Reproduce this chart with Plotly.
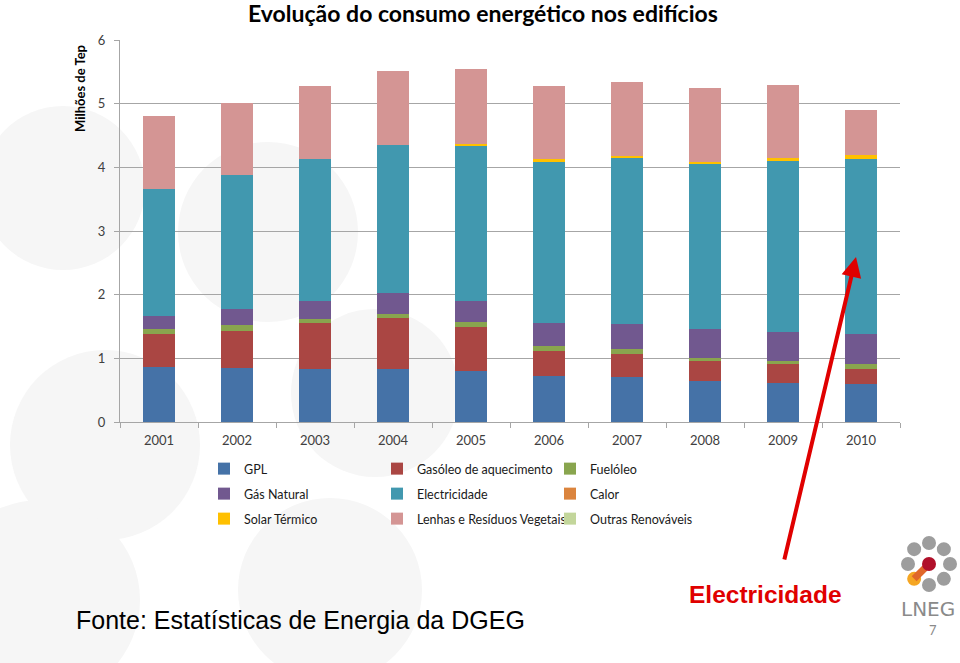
import math
import plotly.graph_objects as go

years = ["2001", "2002", "2003", "2004", "2005", "2006", "2007", "2008", "2009", "2010"]

gpl = [0.86, 0.85, 0.84, 0.84, 0.80, 0.72, 0.70, 0.65, 0.62, 0.60]
gasoleo = [0.52, 0.58, 0.72, 0.79, 0.70, 0.395, 0.37, 0.31, 0.295, 0.24]
fuelóleo = [0.08, 0.09, 0.06, 0.07, 0.07, 0.085, 0.08, 0.045, 0.05, 0.07]
gas_natural = [0.20, 0.25, 0.285, 0.32, 0.335, 0.36, 0.385, 0.45, 0.455, 0.48]
electricidade = [2.00, 2.11, 2.22, 2.33, 2.445, 2.535, 2.615, 2.595, 2.675, 2.74]
calor = [0, 0, 0, 0, 0, 0, 0, 0, 0, 0]
solar = [0.0, 0.0, 0.0, 0.0, 0.02, 0.03, 0.03, 0.035, 0.045, 0.06]
lenhas = [1.14, 1.13, 1.15, 1.165, 1.17, 1.155, 1.155, 1.165, 1.15, 0.71]
outras = [0, 0, 0, 0, 0, 0, 0, 0, 0, 0]

# legend rows: row1 = legend, row2 = legend2, row3 = legend3
series = [
    ("GPL", gpl, "#4572A7", "legend"),
    ("Gasóleo de aquecimento", gasoleo, "#AA4643", "legend"),
    ("Fuelóleo", fuelóleo, "#89A54E", "legend"),
    ("Gás Natural", gas_natural, "#71588F", "legend2"),
    ("Electricidade", electricidade, "#4198AF", "legend2"),
    ("Calor", calor, "#DB843D", "legend2"),
    ("Solar Térmico", solar, "#FFC000", "legend3"),
    ("Lenhas e Resíduos Vegetais", lenhas, "#D49594", "legend3"),
    ("Outras Renováveis", outras, "#C3D69B", "legend3"),
]

FONT = "Lato, 'Open Sans', sans-serif"
TICKC = "#404040"

fig = go.Figure()
for i, (name, vals, col, lg) in enumerate(series):
    fig.add_trace(go.Bar(
        x=years, y=vals, name=name, marker=dict(color=col, line=dict(width=0)),
        legend=lg, hoverinfo="x+y",
    ))

# geometry helpers: page pixel -> paper
L, T = 120, 40
W, H = 780, 382
R = 960 - L - W
B = 663 - T - H


def px(x):
    return (x - L) / W


def py(y):
    return (T + H - y) / H


shapes = []
# faint background circles
for cx, cy, r in [(63, 188, 82), (268, 232, 90), (375, 393, 84), (105, 445, 95),
                  (40, 600, 100), (330, 590, 92)]:
    shapes.append(dict(type="circle", xref="paper", yref="paper",
                       x0=px(cx - r), x1=px(cx + r), y0=py(cy + r), y1=py(cy - r),
                       fillcolor="#f6f6f6", line=dict(width=0), layer="below"))

# logo
logo_center = (929, 564)
ring = []
for k in range(8):
    ang = math.radians(-90 + k * 45)
    ring.append((logo_center[0] + 21 * math.cos(ang), logo_center[1] + 21 * math.sin(ang)))
for k, (cx, cy) in enumerate(ring):
    col = "#9d9d9d"
    if k == 5:
        col = "#F5A623"
    r = 7
    shapes.append(dict(type="circle", xref="paper", yref="paper",
                       x0=px(cx - r), x1=px(cx + r), y0=py(cy + r), y1=py(cy - r),
                       fillcolor=col, line=dict(width=0), layer="above"))
shapes.append(dict(type="line", xref="paper", yref="paper",
                   x0=px(ring[5][0]), y0=py(ring[5][1]), x1=px(929), y1=py(564),
                   line=dict(color="#E0672A", width=7), layer="above"))
shapes.append(dict(type="circle", xref="paper", yref="paper",
                   x0=px(929 - 7), x1=px(929 + 7), y0=py(564 + 7), y1=py(564 - 7),
                   fillcolor="#B0102A", line=dict(width=0), layer="above"))

annotations = [
    dict(text="<b>Evolução do consumo energético nos edifícios</b>", xref="paper", yref="paper",
         x=px(483), y=py(13), xanchor="center", yanchor="middle", showarrow=False,
         font=dict(family=FONT, size=23, color="#000000")),
    dict(text="<b>Milhões de Tep</b>", xref="paper", yref="paper", textangle=-90,
         x=px(80), y=py(89), xanchor="center", yanchor="middle", showarrow=False,
         font=dict(family=FONT, size=13, color="#000000")),
    dict(text="Fonte: Estatísticas de Energia da DGEG", xref="paper", yref="paper",
         x=px(74), y=py(620), xanchor="left", yanchor="middle", showarrow=False,
         font=dict(family="Liberation Sans, Arial, sans-serif", size=25, color="#000000")),
    dict(text="<b>Electricidade</b>", xref="paper", yref="paper",
         x=px(765), y=py(594), xanchor="center", yanchor="middle", showarrow=False,
         font=dict(family="Liberation Sans, Arial, sans-serif", size=24.5, color="#E00000")),
    dict(text="", xref="paper", yref="paper", x=px(856), y=py(257), ax=-72, ay=304,
         axref="pixel", ayref="pixel", showarrow=True, arrowhead=2, arrowsize=1,
         arrowwidth=4, arrowcolor="#E00000"),
    dict(text="LNEG", xref="paper", yref="paper", x=px(928), y=py(609),
         xanchor="center", yanchor="middle", showarrow=False,
         font=dict(family="'DejaVu Sans', sans-serif", size=20, color="#8a8a8a")),
    dict(text="7", xref="paper", yref="paper", x=px(933), y=py(630),
         xanchor="center", yanchor="middle", showarrow=False,
         font=dict(family=FONT, size=13, color="#8a8a8a")),
]

leg_common = dict(orientation="h", traceorder="normal", entrywidth=128, entrywidthmode="pixels",
                  font=dict(family=FONT, size=12.5, color="#1a1a1a"),
                  bgcolor="rgba(0,0,0,0)", xanchor="left", yanchor="top", yref="paper",
                  x=px(204))

fig.update_layout(
    width=960, height=663,
    margin=dict(l=L, r=R, t=T, b=B),
    paper_bgcolor="white", plot_bgcolor="rgba(0,0,0,0)",
    barmode="stack", bargap=0.6,
    showlegend=True,
    legend=dict(y=py(454), **leg_common),
    legend2=dict(y=py(479), **leg_common),
    legend3=dict(y=py(504), **leg_common),
    xaxis=dict(type="category", showgrid=False, showline=True, linecolor="#a6a6a6",
               linewidth=1, ticks="outside", tickson="boundaries", ticklen=5,
               tickcolor="#a6a6a6", ticklabelstandoff=6,
               tickfont=dict(family=FONT, size=13, color=TICKC)),
    yaxis=dict(range=[0, 6], dtick=1, showgrid=True, gridcolor="#a6a6a6", gridwidth=1,
               showline=True, linecolor="#a6a6a6", linewidth=1, ticks="outside",
               ticklen=5, tickcolor="#a6a6a6", zeroline=False, ticklabelstandoff=6,
               tickfont=dict(family=FONT, size=13, color=TICKC)),
    shapes=shapes,
    annotations=annotations,
)

fig.write_html("out.html", config={"displayModeBar": False},
               post_script="document.body.style.margin='0px';")
